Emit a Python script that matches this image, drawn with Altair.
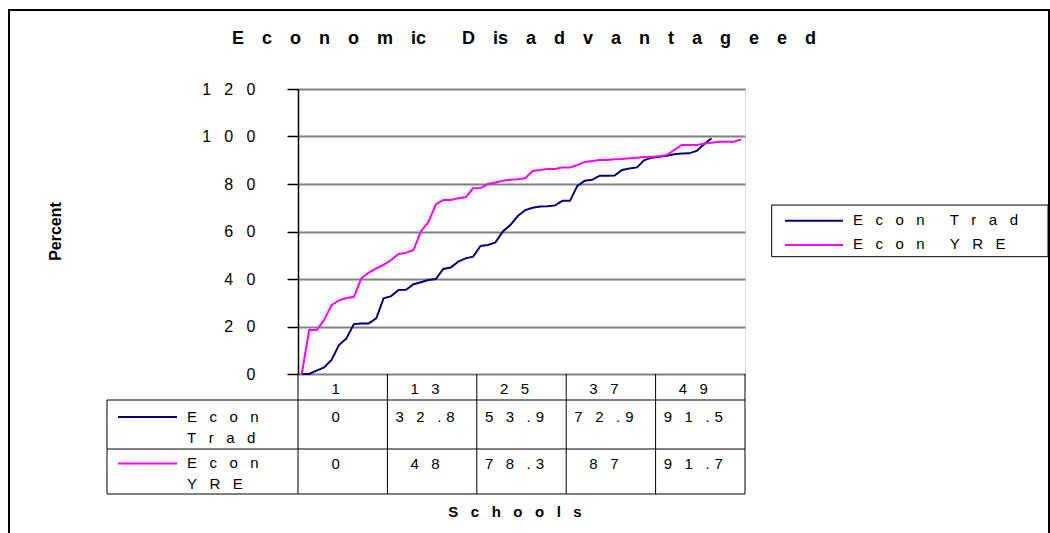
import altair as alt
import pandas as pd

# ---------------- data ----------------
schools = list(range(1, 61))
series_names = ["Econ Trad", "Econ YRE"]
series_colors = ["#000080", "#FF00FF"]

econ_trad = [0, 0, 1.4, 2.8, 5.9, 12.2, 15, 21, 21.3, 21.3, 23.4, 31.9, 32.8, 35.4, 35.5,
             37.8, 38.6, 39.6, 40, 44.2, 44.8, 47.3, 48.7, 49.4, 53.9, 54.3, 55.4, 60, 62.7,
             66.5, 69, 70, 70.5, 70.6, 71, 72.9, 72.9, 79.2, 81.4, 81.8, 83.5, 83.5, 83.6,
             85.9, 86.5, 87, 90.1, 91.1, 91.5, 91.9, 92.5, 92.8, 92.9, 93.9, 96.7, 99.2]
econ_yre = [0, 18.5, 18.5, 22.7, 29, 31, 32, 32.5, 40.3, 42.7, 44.5, 46, 48, 50.5, 51,
            52.2, 60, 64, 71.4, 73.3, 73.3, 74, 74.4, 78.2, 78.3, 80, 80.6, 81.4, 81.8,
            82, 82.4, 85.5, 85.9, 86.3, 86.3, 87, 87, 88, 89.3, 89.7, 90.1, 90.1, 90.4,
            90.5, 90.8, 91.1, 91.4, 91.5, 91.7, 92.2, 94.3, 96.4, 96.4, 96.4, 97, 97.4,
            97.8, 97.8, 97.8, 98.8]

table_cols = [1, 13, 25, 37, 49]
table_trad = [0, 32.8, 53.9, 72.9, 91.5]
table_yre = [0, 48, 78.3, 87, 91.7]
y_ticks = [0, 20, 40, 60, 80, 100, 120]

title_text = "Economic Disadvantageed"
x_title = "Schools"
y_title = "Percent"

FONT = "Liberation Sans"
GAP = "\u2002\u2004"
TGAP = "\u2003"


def spaced(s, gap=GAP):
    out = ""
    for i, ch in enumerate(s):
        if ch == " ":
            out += gap
            continue
        out += ch
        if i == len(s) - 1 or ch == "i":
            continue
        if ch == ".":
            out += "\u2004"
            continue
        out += gap
    return out


def fmt(v):
    return spaced("{:g}".format(v))


rows = []
for name, vals in zip(series_names, [econ_trad, econ_yre]):
    for s, v in zip(schools, vals):
        rows.append({"school": s, "value": v, "series": name})
df = pd.DataFrame(rows)

one = pd.DataFrame({"k": [0]})
xs = alt.Scale(domain=[schools[0] - 0.5, schools[-1] + 0.5], nice=False, zero=False)
ys = alt.Scale(domain=[0, 120], nice=False)

# ---------------- layers ----------------
border = alt.Chart(one).mark_rect(fill="transparent", stroke="black", strokeWidth=2).encode(
    x=alt.value(-289), x2=alt.value(751), y=alt.value(-79), y2=alt.value(470))

lines = alt.Chart(df).mark_line(strokeWidth=2).encode(
    x=alt.X("school:Q", scale=xs,
            axis=alt.Axis(title=None, labels=False, ticks=False, grid=False,
                          domainColor="black", domainWidth=1.5)),
    y=alt.Y("value:Q", scale=ys,
            axis=alt.Axis(values=y_ticks, title=y_title, grid=True, gridColor="#808080",
                          gridWidth=2, domainColor="black", domainWidth=1.5,
                          tickColor="black", tickSize=11, tickWidth=1.5,
                          labelFont=FONT, labelFontSize=16, labelColor="black",
                          labelPadding=32,
                          labelExpr="join(split(datum.label, ''), '" + GAP + "')",
                          titleFont=FONT, titleFontSize=16, titleFontWeight="bold",
                          titleColor="black", titleAngle=270, titleX=-242.5, titleY=142,
                          titleAlign="center", titleBaseline="middle")),
    color=alt.Color("series:N", scale=alt.Scale(domain=series_names, range=series_colors),
                    legend=None),
)

title = alt.Chart(one).mark_text(
    text=spaced(title_text, TGAP), font=FONT, fontSize=18, fontWeight="bold",
    align="center", baseline="middle", color="black").encode(
    x=alt.value(226), y=alt.value(-49.7))

xtitle = alt.Chart(one).mark_text(
    text=spaced(x_title), font=FONT, fontSize=15, fontWeight="bold",
    align="center", baseline="middle", color="black").encode(
    x=alt.value(217), y=alt.value(423.2))

# table grid
bounds = pd.DataFrame({"b": [c - 0.5 for c in table_cols] + [schools[-1] + 0.5]})
vlines = alt.Chart(bounds).mark_rule(color="black", strokeWidth=1).encode(
    x=alt.X("b:Q", scale=xs, axis=None), y=alt.value(285), y2=alt.value(405))
hl = []
for yy in [311, 360, 405]:
    hl.append(alt.Chart(one).mark_rule(color="black", strokeWidth=1).encode(
        x=alt.value(-191), x2=alt.value(447), y=alt.value(yy)))
left_v = alt.Chart(one).mark_rule(color="black", strokeWidth=1).encode(
    x=alt.value(-191), y=alt.value(311), y2=alt.value(405))

header_df = pd.DataFrame({"start": table_cols, "label": [spaced(str(c)) for c in table_cols]})
header = alt.Chart(header_df).transform_calculate(mid="datum.start + 5.5").mark_text(
    font=FONT, fontSize=15, align="center", baseline="middle", dx=-7, color="black").encode(
    x=alt.X("mid:Q", scale=xs, axis=None), y=alt.value(299.9), text="label:N")

table_layers = []
row_mid = [327.9, 374.9]
row_top = [320.7, 367.4]
key_y = [328, 374.5]
for k, (name, vals) in enumerate(zip(series_names, [table_trad, table_yre])):
    tdf = pd.DataFrame({"start": table_cols, "label": [fmt(v) for v in vals]})
    table_layers.append(alt.Chart(tdf).transform_calculate(mid="datum.start + 5.5").mark_text(
        font=FONT, fontSize=15, align="center", baseline="middle", dx=-7, color="black").encode(
        x=alt.X("mid:Q", scale=xs, axis=None), y=alt.value(row_mid[k]), text="label:N"))
    words = name.split(" ")
    table_layers.append(alt.Chart(one).mark_text(
        text="\n".join(spaced(w) for w in words), lineBreak="\n", lineHeight=21,
        font=FONT, fontSize=15, align="left", baseline="top", color="black").encode(
        x=alt.value(-111), y=alt.value(row_top[k])))
    table_layers.append(alt.Chart(one).mark_rule(color=series_colors[k], strokeWidth=2).encode(
        x=alt.value(-180), x2=alt.value(-121), y=alt.value(key_y[k])))

# legend
legend_layers = [alt.Chart(one).mark_rect(fill="white", stroke="black", strokeWidth=1).encode(
    x=alt.value(473.7), x2=alt.value(750), y=alt.value(116), y2=alt.value(167.7))]
leg_y = [131.7, 156]
for k, name in enumerate(series_names):
    legend_layers.append(alt.Chart(one).mark_rule(color=series_colors[k], strokeWidth=2).encode(
        x=alt.value(487), x2=alt.value(545), y=alt.value(leg_y[k])))
    legend_layers.append(alt.Chart(one).mark_text(
        text=spaced(name), font=FONT, fontSize=15, align="left", baseline="middle",
        color="black").encode(x=alt.value(555), y=alt.value(leg_y[k] - 0.7)))

chart = alt.layer(
    border, lines, vlines, *hl, left_v, header, *table_layers, title, xtitle, *legend_layers
).properties(
    width=447, height=285,
    autosize=alt.AutoSizeParams(type="none"),
    padding={"left": 298, "top": 89, "right": 305, "bottom": 159},
).configure_view(stroke="#808080", strokeWidth=2).configure(font=FONT, background="white")

chart.save("out.html", embed_options={"renderer": "svg", "actions": False})
